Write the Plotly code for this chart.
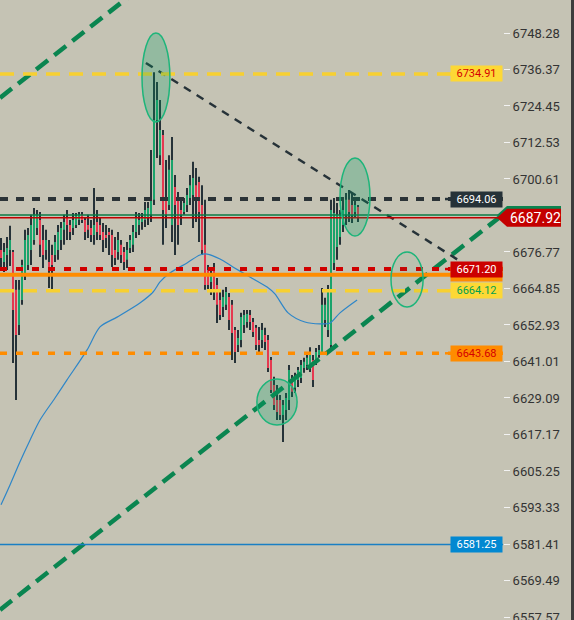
import plotly.graph_objects as go

# ---------------- data ----------------
bar_high = [6681.3, 6679.7, 6681.7, 6685.3, 6677.4, 6667.6, 6667.6, 6674.2, 6684.0, 6684.6,
            6688.9, 6691.1, 6690.5, 6689.8, 6685.6, 6684.0, 6680.7, 6679.1, 6682.3, 6685.6,
            6686.6, 6688.9, 6690.5, 6687.2, 6689.5, 6689.5, 6689.8, 6689.8, 6688.2, 6688.9,
            6687.2, 6697.7, 6690.5, 6688.2, 6686.2, 6685.6, 6684.6, 6684.0, 6681.7, 6683.3,
            6680.7, 6678.4, 6680.0, 6682.3, 6685.6, 6689.8, 6689.5, 6689.5, 6693.1, 6693.1,
            6710.1, 6735.5, 6732.3, 6726.4, 6716.6, 6706.8, 6708.4, 6714.3, 6701.9, 6696.4,
            6693.8, 6694.4, 6697.7, 6701.9, 6706.2, 6704.2, 6701.3, 6698.6, 6693.8, 6672.5,
            6671.9, 6673.2, 6668.3, 6664.4, 6664.4, 6665.3, 6663.4, 6661.1, 6652.3, 6651.3,
            6656.9, 6657.8, 6657.8, 6657.8, 6655.2, 6652.9, 6652.3, 6653.6, 6652.0, 6649.7,
            6642.5, 6636.0, 6633.3, 6630.1, 6628.4, 6630.7, 6639.9, 6636.6, 6637.3, 6639.2,
            6641.5, 6642.2, 6643.1, 6645.7, 6643.1, 6645.4, 6646.4, 6665.0, 6661.8, 6666.0,
            6693.8, 6694.4, 6692.8, 6690.5, 6693.8, 6696.0, 6697.0, 6696.0, 6694.7, 6692.1]
bar_low = [6671.5, 6670.2, 6670.9, 6672.2, 6640.5, 6628.4, 6649.7, 6659.5, 6667.6, 6670.9,
           6672.5, 6679.1, 6682.3, 6675.1, 6671.5, 6674.2, 6665.0, 6663.7, 6673.5, 6674.2,
           6677.4, 6679.1, 6680.7, 6680.7, 6682.3, 6684.6, 6685.6, 6686.2, 6680.7, 6681.3,
           6680.0, 6679.1, 6680.7, 6680.7, 6676.8, 6678.1, 6675.8, 6671.9, 6672.5, 6674.2,
           6673.2, 6670.9, 6671.5, 6676.4, 6676.8, 6681.3, 6682.3, 6684.0, 6684.9, 6685.6,
           6686.6, 6692.1, 6707.5, 6705.2, 6679.1, 6684.6, 6690.5, 6680.0, 6675.8, 6679.1,
           6685.6, 6688.9, 6689.8, 6692.1, 6684.6, 6686.6, 6680.0, 6675.8, 6664.4, 6663.7,
           6662.7, 6661.1, 6653.6, 6654.6, 6655.5, 6657.8, 6651.3, 6641.5, 6640.5, 6644.1,
           6645.7, 6650.3, 6652.0, 6651.3, 6649.0, 6644.8, 6644.1, 6645.4, 6644.8, 6637.6,
           6630.7, 6625.2, 6621.9, 6621.9, 6614.7, 6621.9, 6625.2, 6629.4, 6630.7, 6632.7,
           6634.0, 6637.3, 6638.2, 6637.6, 6632.7, 6639.9, 6642.2, 6643.1, 6652.3, 6649.0,
           6644.8, 6670.9, 6674.2, 6679.1, 6683.3, 6685.6, 6686.6, 6686.2, 6687.9, 6686.6]
bar_open = [6677.4, 6673.5, 6675.8, 6677.4, 6676.8, 6664.4, 6652.9, 6661.1, 6669.3, 6672.5,
            6677.4, 6680.7, 6684.6, 6687.2, 6680.7, 6677.4, 6673.5, 6675.8, 6675.8, 6677.4,
            6680.7, 6684.0, 6687.9, 6685.6, 6684.6, 6685.6, 6687.2, 6688.9, 6687.2, 6685.6,
            6684.6, 6682.3, 6686.6, 6685.6, 6683.3, 6682.3, 6683.3, 6682.3, 6677.4, 6676.8,
            6679.1, 6676.8, 6674.2, 6678.1, 6679.1, 6683.3, 6685.6, 6686.6, 6687.2, 6687.9,
            6688.9, 6693.8, 6719.9, 6708.4, 6715.0, 6693.8, 6692.1, 6685.6, 6698.0, 6693.8,
            6690.5, 6689.8, 6692.1, 6694.4, 6695.4, 6698.6, 6699.6, 6692.1, 6679.1, 6670.9,
            6667.0, 6670.9, 6666.0, 6661.1, 6658.8, 6659.5, 6662.1, 6659.5, 6651.3, 6646.4,
            6648.0, 6652.9, 6653.9, 6656.2, 6653.9, 6652.0, 6648.0, 6648.0, 6649.7, 6648.0,
            6641.5, 6633.3, 6628.4, 6628.4, 6623.5, 6625.2, 6628.4, 6635.6, 6632.4, 6635.0,
            6635.6, 6638.9, 6639.9, 6639.9, 6641.5, 6641.5, 6643.1, 6644.1, 6654.6, 6651.3,
            6646.4, 6673.2, 6678.4, 6681.7, 6685.6, 6688.9, 6693.8, 6692.1, 6689.8, 6691.5]
bar_close = [6674.8, 6676.8, 6678.1, 6680.7, 6657.8, 6649.7, 6664.4, 6672.5, 6680.7, 6682.3,
             6685.6, 6688.9, 6688.9, 6679.1, 6675.8, 6680.7, 6670.9, 6672.5, 6680.0, 6683.3,
             6684.6, 6686.6, 6685.6, 6683.3, 6687.2, 6688.5, 6688.9, 6687.2, 6683.3, 6684.0,
             6682.3, 6685.6, 6683.3, 6682.3, 6680.7, 6681.3, 6682.3, 6675.8, 6674.8, 6680.7,
             6675.8, 6673.5, 6677.4, 6680.7, 6683.3, 6687.9, 6687.2, 6687.9, 6690.5, 6691.1,
             6693.8, 6719.9, 6726.4, 6716.6, 6690.5, 6688.9, 6703.6, 6706.8, 6692.1, 6685.6,
             6688.9, 6692.8, 6695.4, 6698.6, 6700.9, 6693.8, 6689.8, 6677.4, 6666.0, 6666.0,
             6668.9, 6664.4, 6659.5, 6656.2, 6662.1, 6663.7, 6654.6, 6650.3, 6644.1, 6648.7,
             6655.5, 6656.2, 6656.5, 6653.9, 6650.6, 6646.4, 6646.4, 6651.3, 6647.4, 6638.9,
             6631.7, 6626.8, 6624.5, 6623.5, 6626.8, 6629.1, 6638.2, 6631.1, 6635.6, 6638.2,
             6639.9, 6640.9, 6642.2, 6644.1, 6635.0, 6644.1, 6644.8, 6659.5, 6659.5, 6663.7,
             6690.5, 6689.5, 6688.9, 6688.9, 6690.5, 6693.8, 6689.8, 6688.9, 6692.1, 6687.9]

# moving average (read at sample bars)
ma_x = [0, 3.0, 6.3, 9.7, 13.0, 18.0, 22.0, 28.7, 33.0, 38.7, 46.3, 50.7, 53.0, 56.3,
        62.0, 66.3, 68.7, 73.0, 77.3, 83.0, 88.7, 91.3, 95.7, 101.3, 106.3, 109.7, 113.0, 118.7]
ma_y = [6594.2, 6600.7, 6608.2, 6615.4, 6621.9, 6629.1, 6635.0, 6644.8, 6652.3, 6655.5,
        6660.1, 6663.7, 6667.0, 6669.9, 6673.2, 6675.8, 6676.1, 6674.5, 6671.9, 6668.6,
        6665.3, 6663.1, 6656.9, 6653.9, 6653.3, 6653.6, 6656.9, 6661.1]

# trend lines (bar index, price)
green_low_x = [-0.33, 166.3]
green_low_y = [6559.9, 6688.2]
green_up_x = [-0.33, 49.7]
green_up_y = [6727.1, 6765.6]
black_x = [48.3, 163.0]
black_y = [6738.5, 6667.6]

# price levels
lvl_yellow_top = 6734.91
lvl_dark = 6694.06
lvl_green_thin = 6688.85
lvl_last = 6687.92
lvl_red = 6671.20
lvl_orange = 6669.30
lvl_yellow_low = 6664.12
lvl_orange_dash = 6643.68
lvl_blue = 6581.25

tick_vals = [6557.57, 6569.49, 6581.41, 6593.33, 6605.25, 6617.17, 6629.09, 6641.01,
             6652.93, 6664.85, 6676.77, 6700.61, 6712.53, 6724.45, 6736.37, 6748.28]
tick_text = ["6557.57", "6569.49", "6581.41", "6593.33", "6605.25", "6617.17", "6629.09",
             "6641.01", "6652.93", "6664.85", "6676.77", "6700.61", "6712.53", "6724.45",
             "6736.37", "6748.28"]

Y_RANGE = [6556.59, 6759.06]
X_RANGE = [-0.333, 167.333]

# ---------------- figure ----------------
BG = "#c5c3b4"
DARK = "#263238"
GREEN = "#1aa36b"
RED = "#e53950"

wx, wy, gx, gy, rx, ry = [], [], [], [], [], []
for i in range(len(bar_high)):
    wx += [i, i, None]
    wy += [bar_low[i], bar_high[i], None]
    if bar_close[i] >= bar_open[i]:
        gx += [i, i, None]
        gy += [bar_open[i], bar_close[i], None]
    else:
        rx += [i, i, None]
        ry += [bar_open[i], bar_close[i], None]

fig = go.Figure()
fig.add_trace(go.Scatter(x=wx, y=wy, mode="lines", line=dict(color=DARK, width=2), hoverinfo="skip"))
fig.add_trace(go.Scatter(x=gx, y=gy, mode="lines", line=dict(color=GREEN, width=2), hoverinfo="skip"))
fig.add_trace(go.Scatter(x=rx, y=ry, mode="lines", line=dict(color=RED, width=2), hoverinfo="skip"))
fig.add_trace(go.Scatter(x=ma_x, y=ma_y, mode="lines",
                         line=dict(color="#2e86c8", width=1.2, shape="spline", smoothing=0.8),
                         hoverinfo="skip"))
for tx, ty in ((green_low_x, green_low_y), (green_up_x, green_up_y)):
    fig.add_trace(go.Scatter(x=tx, y=ty, mode="lines",
                             line=dict(color="#0a8550", width=4.5, dash="15px,8px"), hoverinfo="skip"))
fig.add_trace(go.Scatter(x=black_x, y=black_y, mode="lines",
                         line=dict(color=DARK, width=2.5, dash="8px,7px"), hoverinfo="skip"))

shapes = []
def hline(y, color, width, dash="solid"):
    shapes.append(dict(type="line", xref="paper", x0=0, x1=1, yref="y", y0=y, y1=y,
                       line=dict(color=color, width=width, dash=dash), layer="above"))

hline(lvl_blue, "#1a7fc4", 1.5)
hline(lvl_orange_dash, "#ff8c00", 3.5, "7px,9px")
hline(lvl_yellow_low, "#f7d031", 3.5, "14px,9px")
hline(lvl_orange, "#ff8c00", 4)
hline(lvl_red, "#d00000", 4, "7px,9px")
hline(lvl_green_thin, "#0a7a45", 1.5)
hline(lvl_last, "#c00000", 1.5)
hline(lvl_dark, "#2b3337", 4, "8px,8px")
hline(lvl_yellow_top, "#f7d031", 3.5, "14px,9px")

# ellipses
def ell(x0, x1, y0, y1, alpha):
    shapes.append(dict(type="circle", xref="x", yref="y", x0=x0, x1=x1, y0=y0, y1=y1,
                       fillcolor=f"rgba(0,160,100,{alpha})",
                       line=dict(color="#1db57a", width=1.5), layer="above"))

ell(47.0, 56.3, 6719.2, 6748.3, 0.25)
ell(113.0, 123.0, 6682.0, 6707.5, 0.25)
ell(130.0, 140.7, 6658.8, 6676.8, 0.05)
ell(85.3, 98.7, 6620.3, 6635.3, 0.25)

PW = 503.0
def px(v):
    return v / PW

# stubs left of labels
for lv, col in ((lvl_yellow_top, "#f7d031"), (lvl_dark, DARK), (lvl_red, "#d00000"),
                (lvl_yellow_low, "#f7d031"), (lvl_orange_dash, "#ff8c00")):
    shapes.append(dict(type="line", xref="paper", yref="y", x0=px(445), x1=px(453), y0=lv, y1=lv,
                       line=dict(color=col, width=2.5), layer="above"))

# last price marker (green behind, red in front)
h = 2.94
for lv, col in ((lvl_green_thin, "#0a8550"), (lvl_last, "#c40000")):
    path = (f"M {px(497)},{lv} L {px(507)},{lv + h} L {px(561)},{lv + h} "
            f"L {px(561)},{lv - h} L {px(507)},{lv - h} Z")
    shapes.append(dict(type="path", xref="paper", yref="y", path=path,
                       fillcolor=col, line=dict(width=0), layer="above"))

# right border
shapes.append(dict(type="line", xref="paper", yref="paper", x0=px(572.5), x1=px(572.5), y0=0, y1=1,
                   line=dict(color="#3d3d3d", width=3)))

annotations = []
def label(y, text, bg, fg):
    annotations.append(dict(xref="paper", yref="y", x=1, y=y, xanchor="right", yanchor="middle",
                            text=text, showarrow=False, bgcolor=bg, width=47, height=11, borderpad=2,
                            font=dict(family="Roboto", size=11, color=fg)))

label(lvl_yellow_top, "6734.91", "#fdd835", "#d50000")
label(lvl_dark, "6694.06", "#263238", "#ffffff")
label(lvl_orange + 0.3, " ", "#ff8c00", "#ffffff")
label(lvl_red, "6671.20", "#cc0000", "#ffffff")
label(lvl_yellow_low, "6664.12", "#fdd835", "#00a050")
label(lvl_orange_dash, "6643.68", "#ff8c00", "#d50000")
label(lvl_blue, "6581.25", "#0288d1", "#ffffff")
annotations.append(dict(xref="paper", yref="y", x=px(535), y=lvl_last, xanchor="center",
                        yanchor="middle", text="6687.92", showarrow=False,
                        font=dict(family="Roboto", size=14, color="#ffffff")))

fig.update_layout(
    width=574, height=620,
    margin=dict(l=0, r=71, t=0, b=0, autoexpand=False),
    paper_bgcolor=BG, plot_bgcolor=BG,
    showlegend=False,
    shapes=shapes, annotations=annotations,
    xaxis=dict(range=X_RANGE, visible=False, showgrid=False, zeroline=False, automargin=False),
    yaxis=dict(range=Y_RANGE, side="right", tickvals=tick_vals, ticktext=tick_text,
               ticks="outside", ticklen=6, tickcolor="#f2f2f2", tickwidth=1,
               ticklabeloverflow="allow", automargin=False,
               showgrid=False, zeroline=False, showline=False,
               tickfont=dict(family="Roboto", size=13, color="#333333")),
)

fig.write_html("out.html", config={"displayModeBar": False},
               post_script="document.body.style.margin='0';document.body.style.overflow='hidden';")
